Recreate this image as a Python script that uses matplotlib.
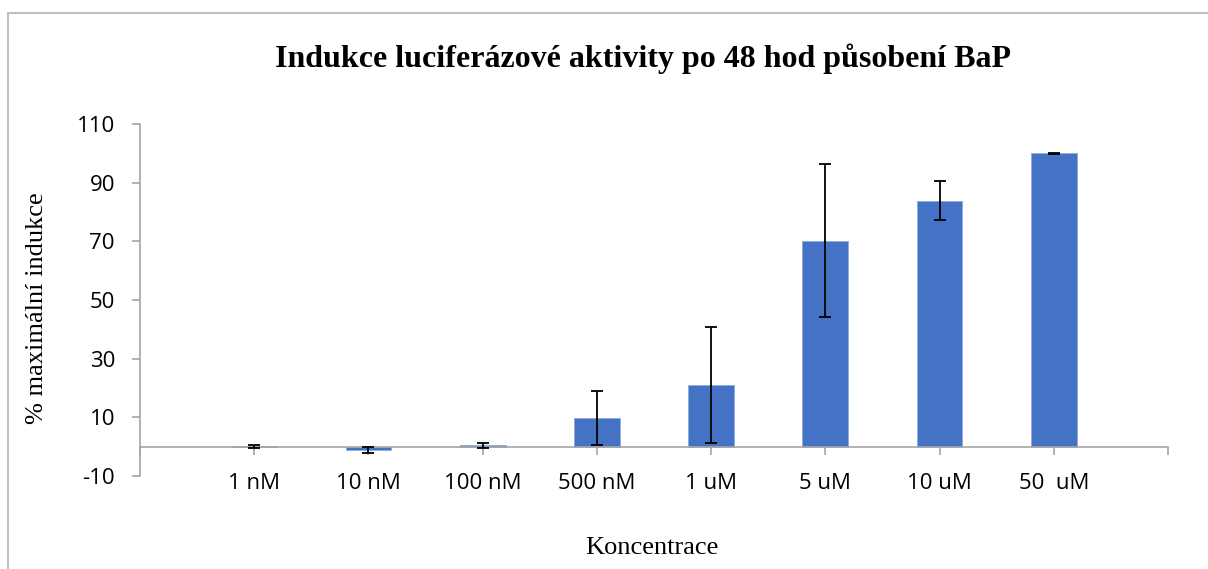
import matplotlib
matplotlib.use("Agg")
import matplotlib.pyplot as plt
from matplotlib.patches import Rectangle

plt.rcParams["axes.unicode_minus"] = False

categories = ["1 nM", "10 nM", "100 nM", "500 nM", "1 uM", "5 uM", "10 uM", "50  uM"]
values = [0.2, -1.0, 0.5, 9.8, 21.0, 70.2, 83.9, 100.0]
errors = [0.5, 1.0, 0.9, 9.2, 19.7, 26.0, 6.5, 0.1]
yticks = [-10, 10, 30, 50, 70, 90, 110]

title = "Indukce luciferázové aktivity po 48 hod působení BaP"
xlabel = "Koncentrace"
ylabel = "% maximální indukce"

W, H = 1208, 569
fig = plt.figure(figsize=(W / 100, H / 100), dpi=100)
fig.patch.set_facecolor("white")

# chart border (Excel style)
fig.patches.append(Rectangle((8 / W, -0.05), 1.2, (H - 13) / H + 0.05,
                             transform=fig.transFigure, fill=False,
                             edgecolor="#BFBFBF", linewidth=1.5))

ax = fig.add_axes([140 / W, (H - 476) / H, 1028 / W, 352 / H])

pos = list(range(len(categories)))
ax.bar(pos, values, width=0.4, color="#4472C4", edgecolor="#8FAADC",
       linewidth=0.6, zorder=2)
ax.errorbar(pos, values, yerr=errors, fmt="none", ecolor="black",
            elinewidth=1.3, capsize=4.3, capthick=1.3, zorder=3)

ax.set_xlim(-1, len(categories))
ax.set_ylim(-10, 110)
ax.set_yticks(yticks)
ax.set_xticks(list(range(-1, len(categories) + 1)))
ax.set_xticklabels([""] + categories + [""])

for s in ["top", "right"]:
    ax.spines[s].set_visible(False)
ax.spines["bottom"].set_position(("data", 0))
ax.spines["bottom"].set_color("#A6A6A6")
ax.spines["left"].set_color("#A6A6A6")
ax.spines["bottom"].set_linewidth(1.2)
ax.spines["left"].set_linewidth(1.2)

tickfont = "Open Sans"
ax.tick_params(axis="y", direction="out", length=6, width=1.2, color="#A6A6A6",
               labelsize=16, labelcolor="black", pad=12)
ax.tick_params(axis="x", direction="out", length=6, width=1.2, color="#A6A6A6",
               labelsize=16, labelcolor="black", pad=13)
for lab in ax.get_xticklabels() + ax.get_yticklabels():
    lab.set_fontfamily(tickfont)

fig.text(643 / W, 1 - 59 / H, title, ha="center", va="center",
         fontfamily="Liberation Serif", fontweight="bold", fontsize=23)
fig.text(652 / W, 1 - 548 / H, xlabel, ha="center", va="center",
         fontfamily="Liberation Serif", fontsize=19)
fig.text(37 / W, 1 - 308 / H, ylabel, ha="center", va="center", rotation=90,
         fontfamily="Liberation Serif", fontsize=19)

fig.savefig("out.png", dpi=100)
